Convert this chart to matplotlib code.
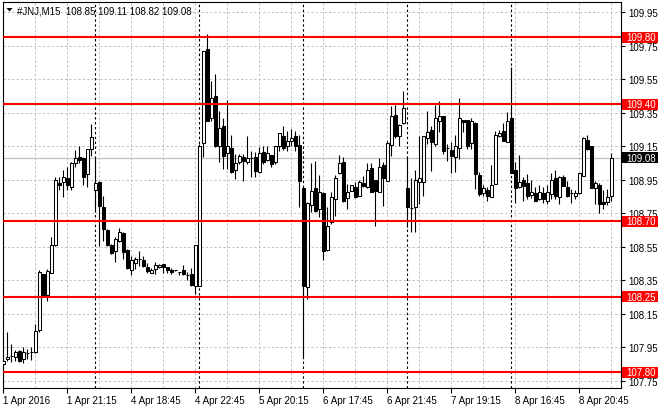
import matplotlib
matplotlib.use("Agg")
import matplotlib.pyplot as plt
import matplotlib.transforms as mtransforms
from matplotlib.patches import Rectangle, Polygon
import pandas as pd

symbol = "#JNJ,M15"

opens = [107.85, 107.88, 107.895, 107.89, 107.925, 107.88, 107.915, 107.92, 107.92, 108.05,
         108.385, 108.26, 108.395, 108.56, 108.93, 108.935, 108.96, 108.905, 109.05, 109.085,
         109.08, 108.985, 109.13, 108.885, 108.935, 108.785, 108.65, 108.56, 108.525, 108.585,
         108.63, 108.53, 108.413, 108.455, 108.475, 108.47, 108.43, 108.395, 108.415, 108.427,
         108.447, 108.427, 108.413, 108.41, 108.397, 108.413, 108.38, 108.387, 108.317, 108.317,
         109.166, 109.73, 109.316, 109.447, 109.15, 109.268, 109.107, 109.137, 109.005, 109.053,
         109.083, 109.053, 109.08, 109.083, 108.993, 109.117, 109.067, 109.097, 109.053, 109.153,
         109.213, 109.153, 109.183, 109.209, 109.157, 108.898, 108.307, 108.798, 108.898, 108.775,
         108.868, 108.532, 108.695, 108.835, 108.99, 109.053, 108.838, 108.884, 108.904, 108.855,
         108.93, 108.904, 109.017, 108.948, 108.874, 109.037, 108.944, 109.157, 109.336, 109.213,
         109.286, 108.898, 108.78, 108.785, 108.934, 108.934, 109.197, 109.246, 109.163, 109.302,
         109.328, 109.137, 109.127, 109.083, 109.137, 109.306, 109.306, 109.167, 109.286, 108.978,
         108.87, 108.888, 108.845, 108.924, 109.209, 109.242, 109.177, 109.316, 109.007, 108.904,
         108.948, 108.93, 108.859, 108.871, 108.835, 108.871, 108.825, 108.864, 108.958, 108.845,
         108.964, 108.904, 108.87, 108.855, 108.87, 108.974, 109.187, 109.149, 108.898, 108.92,
         108.819, 108.815, 108.85]
highs = [107.91, 108.04, 107.97, 107.93, 107.93, 107.95, 107.94, 107.95, 108.09, 108.41,
         108.385, 108.415, 108.605, 108.965, 108.965, 109.005, 109.025, 109.055, 109.125, 109.15,
         109.085, 109.13, 109.28, 109.08, 108.94, 108.855, 108.655, 108.565, 108.605, 108.66,
         108.635, 108.535, 108.495, 108.485, 108.525, 108.495, 108.455, 108.425, 108.46, 108.447,
         108.447, 108.427, 108.42, 108.413, 108.40, 108.44, 108.397, 108.42, 108.56, 109.16,
         109.72, 109.82, 109.54, 109.58, 109.36, 109.32, 109.425, 109.217, 109.103, 109.103,
         109.103, 109.21, 109.123, 109.117, 109.143, 109.153, 109.153, 109.097, 109.153, 109.228,
         109.272, 109.242, 109.252, 109.242, 109.217, 108.898, 108.815, 109.05, 109.063, 108.98,
         108.874, 108.785, 108.874, 108.98, 109.097, 109.083, 108.924, 108.918, 108.934, 108.948,
         108.974, 109.05, 109.05, 108.948, 109.077, 109.053, 109.183, 109.392, 109.396, 109.282,
         109.481, 109.083, 108.958, 109.007, 109.209, 109.213, 109.362, 109.268, 109.396, 109.421,
         109.328, 109.163, 109.177, 109.216, 109.437, 109.306, 109.308, 109.316, 109.296, 108.994,
         108.918, 108.904, 109.037, 109.242, 109.246, 109.288, 109.352, 109.624, 109.053, 109.097,
         108.968, 108.984, 108.95, 108.904, 108.918, 108.904, 108.918, 108.99, 109.01, 108.974,
         108.978, 108.944, 108.894, 108.89, 108.988, 109.203, 109.216, 109.153, 108.944, 108.93,
         108.888, 108.894, 109.11]
lows = [107.81, 107.865, 107.86, 107.87, 107.86, 107.855, 107.88, 107.875, 107.915, 108.04,
        108.255, 108.225, 108.395, 108.555, 108.885, 108.845, 108.885, 108.885, 109.025, 109.05,
        108.915, 108.905, 109.09, 108.755, 108.556, 108.585, 108.555, 108.505, 108.456, 108.575,
        108.476, 108.415, 108.383, 108.415, 108.437, 108.43, 108.395, 108.39, 108.387, 108.425,
        108.393, 108.393, 108.387, 108.405, 108.38, 108.38, 108.353, 108.317, 108.265, 108.317,
        109.083, 109.30, 109.30, 109.143, 109.053, 109.013, 109.013, 108.99, 108.954, 109.043,
        108.944, 109.043, 108.964, 108.964, 108.99, 109.043, 109.063, 109.023, 109.043, 109.123,
        109.129, 109.123, 109.149, 109.123, 108.785, 107.89, 108.238, 108.755, 108.755, 108.725,
        108.472, 108.526, 108.685, 108.735, 108.984, 108.819, 108.775, 108.884, 108.839, 108.855,
        108.904, 108.898, 108.874, 108.675, 108.874, 108.795, 108.944, 109.093, 109.197, 109.153,
        109.282, 108.666, 108.636, 108.636, 108.805, 108.855, 109.163, 109.004, 109.153, 109.236,
        109.103, 109.063, 108.99, 108.994, 109.073, 109.236, 109.133, 109.133, 108.894, 108.855,
        108.855, 108.825, 108.845, 108.924, 109.203, 109.183, 109.173, 108.99, 108.81, 108.898,
        108.825, 108.835, 108.839, 108.825, 108.83, 108.81, 108.805, 108.835, 108.835, 108.805,
        108.91, 108.845, 108.81, 108.835, 108.864, 108.97, 109.129, 108.898, 108.805, 108.751,
        108.775, 108.799, 108.82]
closes = [107.87, 107.89, 107.895, 107.92, 107.865, 107.92, 107.915, 107.92, 108.045, 108.40,
          108.26, 108.405, 108.56, 108.945, 108.92, 108.965, 108.915, 109.05, 109.08, 109.065,
          108.965, 109.13, 109.205, 108.93, 108.795, 108.655, 108.56, 108.51, 108.595, 108.635,
          108.515, 108.42, 108.47, 108.475, 108.475, 108.435, 108.405, 108.41, 108.44, 108.44,
          108.427, 108.413, 108.397, 108.41, 108.397, 108.387, 108.38, 108.32, 108.56, 109.15,
          109.715, 109.30, 109.435, 109.153, 109.256, 109.093, 109.149, 108.993, 109.047, 109.093,
          109.063, 109.077, 109.08, 109.003, 109.107, 109.053, 109.107, 109.043, 109.149, 109.226,
          109.137, 109.18, 109.197, 109.149, 108.944, 108.317, 108.81, 108.884, 108.765, 108.874,
          108.526, 108.675, 108.844, 108.958, 109.047, 108.825, 108.874, 108.918, 108.845, 108.934,
          108.914, 109.007, 108.878, 108.884, 109.023, 108.958, 109.169, 109.328, 109.209, 109.276,
          109.376, 108.785, 108.78, 108.948, 108.958, 109.209, 109.236, 109.177, 109.316, 109.332,
          109.123, 109.137, 109.093, 109.149, 109.316, 109.296, 109.153, 109.298, 108.984, 108.864,
          108.898, 108.855, 108.918, 109.216, 109.228, 109.183, 109.302, 108.99, 108.898, 108.934,
          108.914, 108.855, 108.874, 108.825, 108.874, 108.835, 108.874, 108.948, 108.855, 108.968,
          108.914, 108.855, 108.87, 108.87, 108.988, 109.199, 109.133, 108.898, 108.928, 108.805,
          108.805, 108.845, 109.08]

# trading sessions (date, first bar time); each session ends 22:45
sessions = [("2016-04-01", "17:15"), ("2016-04-04", "16:30"), ("2016-04-05", "16:30"),
            ("2016-04-06", "16:30"), ("2016-04-07", "16:30"), ("2016-04-08", "16:30")]
session_end = "22:45"

levels = [109.80, 109.40, 108.70, 108.25, 107.80]
last_price = 109.08
ytick_values = [109.95, 109.75, 109.55, 109.35, 109.15, 108.95, 108.75, 108.55,
                108.35, 108.15, 107.95, 107.75]
xtick_labels = ["1 Apr 2016", "1 Apr 21:15", "4 Apr 18:45", "4 Apr 22:45", "5 Apr 20:15",
                "6 Apr 17:45", "6 Apr 21:45", "7 Apr 19:15", "8 Apr 16:45", "8 Apr 20:45"]

# build bar timestamps
times = []
for d, t0 in sessions:
    times.extend(pd.date_range(f"{d} {t0}", f"{d} {session_end}", freq="15min"))
n = len(opens)
times = times[:n]
xs = list(range(n))
day_starts = [i for i in range(1, n) if times[i].date() != times[i - 1].date()]

W, H = 660, 410
fig = plt.figure(figsize=(W / 100, H / 100), dpi=100)
fig.patch.set_facecolor("white")
ax = fig.add_axes([3 / W, 21 / H, 618 / W, 386 / H])
ax.set_facecolor("white")

FONT = ["Liberation Sans", "DejaVu Sans"]
FS = 7.0

ax.set_xlim(-0.1, 154.4)
ax.set_ylim(107.706, 110.010)

gridc = "#c0c0c0"
dash = (0, (2.2, 2.2))

# grid
for yv in ytick_values:
    ax.axhline(yv, color=gridc, lw=0.72, ls=dash, zorder=1)
for xv in range(8, 155, 8):
    ax.axvline(xv, color=gridc, lw=0.72, ls=dash, zorder=1)

# period separators
for ds in day_starts:
    ax.axvline(ds, color="black", lw=0.8, ls=dash, zorder=1.5)

# current price line
ax.axhline(last_price, color=gridc, lw=0.9, zorder=1.2)

# candles
ax.vlines(xs, lows, highs, color="black", lw=0.8, zorder=2)
for i in xs:
    o, c = opens[i], closes[i]
    bottom = min(o, c)
    h = max(abs(c - o), 0.0005)
    fc = "white" if c >= o else "black"
    ax.bar(i, h, bottom=bottom, width=0.7, color=fc, edgecolor="black",
           linewidth=0.75, zorder=3)

# level lines
for lv in levels:
    ax.axhline(lv, color="#ff0000", lw=1.5, zorder=4)

for sp in ax.spines.values():
    sp.set_color("black")
    sp.set_linewidth(0.8)

ax.yaxis.tick_right()
ax.set_yticks(ytick_values)
ax.set_yticklabels([f"{v:.2f}" for v in ytick_values], fontsize=FS, family=FONT)
ax.tick_params(axis="y", which="major", direction="out", length=3, width=0.8,
               pad=2, colors="black", left=False, right=True)

ax.set_xticks(xs[::16])
ax.set_xticklabels(xtick_labels, fontsize=FS, family=FONT, ha="left")
ax.tick_params(axis="x", which="major", direction="out", length=3.5, width=0.8,
               pad=1.2, colors="black")

# right-side price labels
blend = mtransforms.blended_transform_factory(ax.transAxes, ax.transData)
box_w = 36 / 618
box_h = 11 / 167.6
for lv in levels:
    ax.add_patch(Rectangle((1.0015, lv - box_h / 2), box_w, box_h, transform=blend,
                           facecolor="#ff0000", edgecolor="none", clip_on=False, zorder=5))
    ax.text(1.0015 + 4 / 618, lv, f"{lv:.2f}", transform=blend, ha="left", va="center",
            color="white", fontsize=FS, family=FONT, clip_on=False, zorder=6)
ax.add_patch(Rectangle((1.0015, last_price - box_h / 2), box_w, box_h, transform=blend,
                       facecolor="black", edgecolor="none", clip_on=False, zorder=5))
ax.text(1.0015 + 4 / 618, last_price, f"{last_price:.2f}", transform=blend, ha="left",
        va="center", color="white", fontsize=FS, family=FONT, clip_on=False, zorder=6)

# title
tri = Polygon([[6.5 / W, 401 / H], [12.5 / W, 401 / H], [9.5 / W, 397.5 / H]],
              closed=True, transform=fig.transFigure, facecolor="black", edgecolor="none")
fig.add_artist(tri)
title = f"{symbol}  {opens[-1]:.2f} {highs[-1]:.2f} {lows[-1]:.2f} {closes[-1]:.2f}"
fig.text(17 / W, 399 / H, title, ha="left", va="center", fontsize=FS, family=FONT,
         color="black")

fig.savefig("out.png", dpi=100, facecolor="white")
